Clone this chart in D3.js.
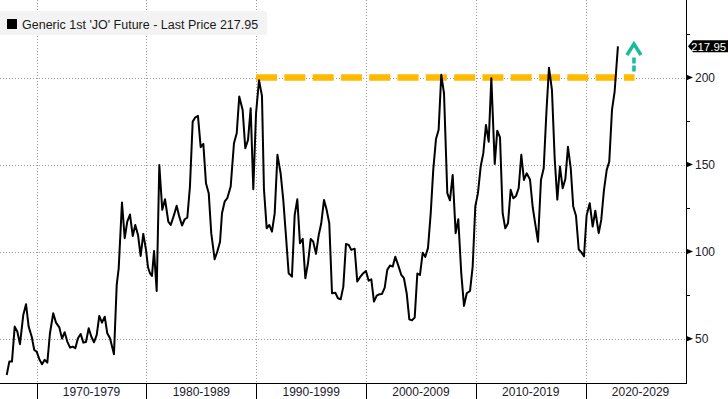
<!DOCTYPE html>
<html>
<head>
<meta charset="utf-8">
<script src="https://cdn.jsdelivr.net/npm/d3@7"></script>
<style>
  html, body { margin: 0; padding: 0; background: #fff; }
  svg { display: block; font-family: "Liberation Sans", Arial, sans-serif; }
</style>
</head>
<body>
<svg id="chart"></svg>
<script>
// Generic 1st 'JO' future, last price
const years = [
  1967.27, 1967.51, 1967.75, 1968.00, 1968.24, 1968.48, 1968.78, 1969.03, 1969.27, 1969.55,
  1969.78, 1970.00, 1970.24, 1970.49, 1970.73, 1970.97, 1971.21, 1971.51, 1971.76, 1972.06,
  1972.31, 1972.55, 1972.79, 1973.04, 1973.28, 1973.52, 1973.76, 1974.01, 1974.25, 1974.49,
  1974.74, 1974.98, 1975.22, 1975.47, 1975.70, 1975.95, 1976.20, 1976.43, 1976.68, 1977.04,
  1977.29, 1977.47, 1977.77, 1978.02, 1978.25, 1978.50, 1978.75, 1978.98, 1979.23, 1979.47,
  1979.71, 1979.96, 1980.14, 1980.32, 1980.50, 1980.69, 1980.93, 1981.17, 1981.44, 1981.69,
  1981.99, 1982.21, 1982.51, 1982.75, 1982.99, 1983.24, 1983.48, 1983.72, 1983.96, 1984.21,
  1984.45, 1984.69, 1984.94, 1985.18, 1985.42, 1985.67, 1985.90, 1986.21, 1986.45, 1986.70,
  1986.88, 1987.12, 1987.36, 1987.67, 1987.97, 1988.22, 1988.45, 1988.76, 1989.00, 1989.25,
  1989.49, 1989.73, 1989.98, 1990.25, 1990.52, 1990.70, 1990.95, 1991.19, 1991.43, 1991.68,
  1991.93, 1992.22, 1992.46, 1992.71, 1992.95, 1993.25, 1993.50, 1993.74, 1993.98, 1994.23,
  1994.47, 1994.71, 1994.96, 1995.19, 1995.44, 1995.69, 1995.92, 1996.17, 1996.41, 1996.65,
  1996.90, 1997.20, 1997.44, 1997.69, 1997.93, 1998.17, 1998.42, 1998.65, 1998.96, 1999.20,
  1999.45, 1999.75, 1999.99, 2000.24, 2000.48, 2000.72, 2000.97, 2001.20, 2001.45, 2001.70,
  2001.93, 2002.18, 2002.43, 2002.66, 2002.97, 2003.21, 2003.45, 2003.70, 2003.94, 2004.18,
  2004.43, 2004.67, 2004.91, 2005.16, 2005.39, 2005.64, 2005.89, 2006.12, 2006.37, 2006.61,
  2006.85, 2007.10, 2007.40, 2007.64, 2007.89, 2008.16, 2008.40, 2008.67, 2008.92, 2009.17,
  2009.47, 2009.71, 2009.95, 2010.19, 2010.44, 2010.68, 2010.92, 2011.17, 2011.41, 2011.72,
  2011.95, 2012.20, 2012.44, 2012.68, 2012.93, 2013.17, 2013.41, 2013.66, 2013.90, 2014.14,
  2014.38, 2014.63, 2014.93, 2015.18, 2015.41, 2015.66, 2015.93, 2016.18, 2016.43, 2016.66,
  2016.93, 2017.18, 2017.42, 2017.66, 2017.91, 2018.15, 2018.39, 2018.64, 2018.87, 2019.12,
  2019.37, 2019.60, 2019.85, 2020.09, 2020.37, 2020.64, 2020.88, 2021.19, 2021.42, 2021.67,
  2021.92, 2022.15, 2022.40, 2022.64, 2022.94
];
const prices = [
  29.1, 36.8, 36.8, 56.9, 54.0, 46.8, 63.6, 69.8, 56.9, 51.1,
  43.5, 42.5, 38.2, 35.3, 37.8, 36.2, 53.1, 64.6, 59.2, 56.5,
  50.0, 53.7, 48.3, 44.8, 45.4, 44.5, 50.2, 52.7, 47.7, 48.1,
  56.0, 51.1, 47.9, 52.1, 63.0, 59.2, 62.6, 53.1, 50.2, 41.0,
  80.9, 90.4, 128.2, 107.7, 117.2, 121.3, 109.0, 115.3, 109.6, 97.5,
  110.2, 101.0, 91.0, 87.6, 86.0, 100.4, 77.4, 149.8, 124.0, 130.1,
  117.2, 115.3, 121.1, 126.4, 120.1, 115.0, 118.6, 119.5, 137.4, 174.7,
  177.2, 178.0, 160.0, 161.9, 139.3, 133.6, 110.6, 95.6, 100.0, 105.7,
  122.1, 128.7, 130.7, 137.4, 162.3, 168.0, 189.1, 181.4, 159.4, 164.2,
  182.4, 135.9, 179.5, 198.5, 189.5, 136.0, 113.4, 115.3, 111.5, 122.1,
  155.6, 145.0, 129.7, 108.6, 87.6, 85.6, 121.1, 130.1, 104.8, 107.3,
  84.7, 93.3, 107.3, 105.7, 98.7, 109.6, 116.3, 129.7, 124.0, 116.3,
  76.1, 76.4, 73.2, 72.6, 79.9, 104.4, 103.9, 101.0, 101.7, 82.8,
  85.3, 87.6, 88.9, 83.3, 84.1, 71.3, 74.7, 75.5, 75.7, 79.3,
  89.5, 92.0, 91.4, 97.1, 91.4, 86.6, 84.7, 76.1, 61.1, 60.5,
  62.1, 87.4, 86.6, 99.4, 97.0, 102.0, 122.1, 147.0, 164.7, 170.0,
  201.6, 191.0, 133.6, 129.5, 144.1, 110.6, 118.6, 87.6, 68.8, 76.1,
  77.4, 91.4, 125.9, 133.6, 148.9, 156.6, 172.8, 163.2, 199.7, 150.4,
  169.5, 165.7, 122.1, 113.4, 116.3, 135.5, 130.7, 132.0, 136.4, 155.6,
  141.2, 145.0, 141.5, 125.5, 116.0, 105.7, 141.2, 147.9, 180.5, 205.7,
  193.0, 153.5, 129.9, 148.9, 136.4, 141.7, 160.2, 148.0, 125.9, 120.6,
  101.2, 99.7, 97.3, 120.9, 127.8, 114.4, 123.5, 110.6, 118.2, 135.5,
  147.0, 151.7, 181.4, 192.0, 217.95
];

const decades = [1970, 1980, 1990, 2000, 2010, 2020];
const decadeLabels = ["1970-1979", "1980-1989", "1990-1999", "2000-2009", "2010-2019", "2020-2029"];
const majorTicks = [50, 100, 150, 200];
const minorTicks = [75, 125, 175, 225];
const legendText = "Generic 1st 'JO' Future - Last Price 217.95";
const lastPrice = 217.95;

// annotation: resistance at 200 and breakout arrow
const resistanceLevel = 200;
const resistanceFrom = 1989.98;
const resistanceTo = 2024.45;
const arrowYear = 2024.4;
const arrowFrom = 203.5;
const arrowTo = 220.5;

const width = 728, height = 399;
const plot = { left: 0, right: 686, top: 0, bottom: 383 };

const svg = d3.select("#chart").attr("width", width).attr("height", height);

const x = d3.scaleLinear().domain([1966.66, 2029.14]).range([plot.left, plot.right]);
const y = d3.scaleLinear().domain([24.5, 244.6]).range([plot.bottom, plot.top]);

const data = years.map((yr, i) => ({ year: yr, price: prices[i] }));

// grid
const grid = svg.append("g").attr("stroke", "#9a9a9a").attr("stroke-dasharray", "1,2").attr("stroke-width", 1);
grid.selectAll("line.h").data(majorTicks).join("line")
  .attr("x1", plot.left).attr("x2", plot.right)
  .attr("y1", d => Math.round(y(d)) + 0.5).attr("y2", d => Math.round(y(d)) + 0.5);
grid.selectAll("line.v").data(decades).join("line")
  .attr("x1", d => Math.round(x(d)) + 0.5).attr("x2", d => Math.round(x(d)) + 0.5)
  .attr("y1", plot.top).attr("y2", plot.bottom);

// resistance line
svg.append("line")
  .attr("x1", x(resistanceFrom)).attr("x2", x(resistanceTo))
  .attr("y1", y(resistanceLevel)).attr("y2", y(resistanceLevel))
  .attr("stroke", "#FFB900")
  .attr("stroke-width", 6.5)
  .attr("stroke-dasharray", "21,7.3");

// price line
const line = d3.line().x(d => x(d.year)).y(d => y(d.price));
svg.append("path")
  .datum(data)
  .attr("fill", "none")
  .attr("stroke", "#000")
  .attr("stroke-width", 2)
  .attr("stroke-linejoin", "round")
  .attr("d", line);

// breakout arrow
const ax = x(arrowYear);
const arrowColor = "#17BC98";
svg.append("line")
  .attr("x1", ax).attr("x2", ax)
  .attr("y1", y(arrowFrom)).attr("y2", y(arrowTo) + 15)
  .attr("stroke", arrowColor).attr("stroke-width", 3.5)
  .attr("stroke-dasharray", "6,2");
svg.append("path")
  .attr("d", `M${ax - 7},${y(arrowTo) + 13} L${ax},${y(arrowTo) + 2} L${ax + 7},${y(arrowTo) + 13}`)
  .attr("fill", "none").attr("stroke", arrowColor).attr("stroke-width", 3.5);

// legend
const legend = svg.append("g");
legend.append("rect")
  .attr("x", -4).attr("y", 11).attr("width", 271).attr("height", 24).attr("rx", 3)
  .attr("fill", "#f3f3f3");
legend.append("rect")
  .attr("x", 7).attr("y", 19).attr("width", 10).attr("height", 10)
  .attr("fill", "#000");
legend.append("text")
  .attr("x", 22).attr("y", 28.5)
  .style("font-size", "12.5px").attr("fill", "#1a1a1a")
  .text(legendText);

// right axis
svg.append("line")
  .attr("x1", plot.right + 0.5).attr("x2", plot.right + 0.5)
  .attr("y1", 0).attr("y2", plot.bottom)
  .attr("stroke", "#000");
const yAxis = svg.append("g");
yAxis.selectAll("path.mk").data(majorTicks).join("path")
  .attr("d", d => `M${plot.right},${y(d) - 3} L${plot.right + 7},${y(d)} L${plot.right},${y(d) + 3} Z`)
  .attr("fill", "#000");
yAxis.selectAll("text").data(majorTicks).join("text")
  .attr("x", plot.right + 9).attr("y", d => y(d) + 4.5)
  .style("font-size", "12px").attr("fill", "#1a1a2a")
  .text(d => d);
yAxis.selectAll("line.mn").data(minorTicks).join("line")
  .attr("x1", plot.right).attr("x2", plot.right + 4)
  .attr("y1", d => Math.round(y(d)) + 0.5).attr("y2", d => Math.round(y(d)) + 0.5)
  .attr("stroke", "#000");

// last price tag
const ly = y(lastPrice);
svg.append("path")
  .attr("d", `M${plot.right + 2},${ly} L${plot.right + 7},${ly - 6} L${width},${ly - 6} L${width},${ly + 6} L${plot.right + 7},${ly + 6} Z`)
  .attr("fill", "#000");
svg.append("text")
  .attr("x", plot.right + 5).attr("y", ly + 4.5)
  .style("font-size", "11.5px").attr("fill", "#fff")
  .text(lastPrice.toFixed(2));

// bottom axis
svg.append("line")
  .attr("x1", 0).attr("x2", plot.right + 1)
  .attr("y1", plot.bottom + 0.5).attr("y2", plot.bottom + 0.5)
  .attr("stroke", "#000");
svg.append("g").selectAll("line").data(decades).join("line")
  .attr("x1", d => Math.round(x(d)) + 0.5).attr("x2", d => Math.round(x(d)) + 0.5)
  .attr("y1", plot.bottom).attr("y2", height)
  .attr("stroke", "#000");
svg.append("g").selectAll("text").data(decades).join("text")
  .attr("x", d => x(d + 5))
  .attr("y", 396)
  .attr("text-anchor", "middle")
  .style("font-size", "12px").attr("fill", "#1a1a2a")
  .text((d, i) => decadeLabels[i]);
</script>
</body>
</html>
